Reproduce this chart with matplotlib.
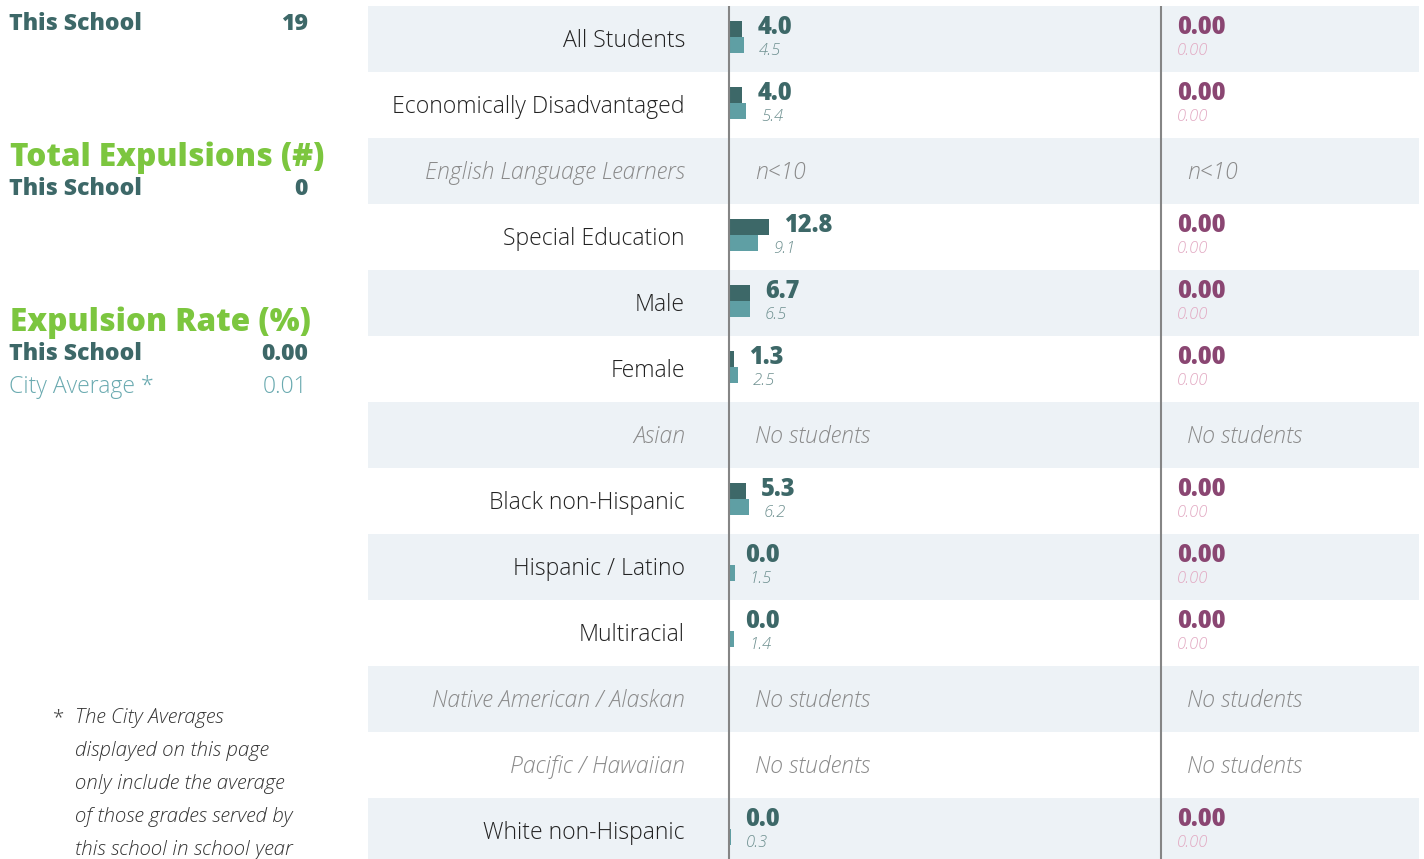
import matplotlib
matplotlib.use('Agg')
import matplotlib.pyplot as plt
from matplotlib.transforms import blended_transform_factory
import numpy as np

# ---------------- data ----------------
categories = ["All Students", "Economically Disadvantaged", "English Language Learners",
              "Special Education", "Male", "Female", "Asian", "Black non-Hispanic",
              "Hispanic / Latino", "Multiracial", "Native American / Alaskan",
              "Pacific / Hawaiian", "White non-Hispanic"]
row_status = ["", "", "n<10", "", "", "", "No students", "", "", "",
              "No students", "No students", ""]
school_susp = [4.0, 4.0, np.nan, 12.8, 6.7, 1.3, np.nan, 5.3, 0.0, 0.0, np.nan, np.nan, 0.0]
city_susp = [4.5, 5.4, np.nan, 9.1, 6.5, 2.5, np.nan, 6.2, 1.5, 1.4, np.nan, np.nan, 0.3]
school_exp = [0.00, 0.00, np.nan, 0.00, 0.00, 0.00, np.nan, 0.00, 0.00, 0.00, np.nan, np.nan, 0.00]
city_exp = [0.00, 0.00, np.nan, 0.00, 0.00, 0.00, np.nan, 0.00, 0.00, 0.00, np.nan, np.nan, 0.00]

total_suspensions = 19
total_expulsions = 0
expulsion_rate_school = 0.00
expulsion_rate_city = 0.01
footnote_lines = ["The City Averages", "displayed on this page", "only include the average",
                  "of those grades served by", "this school in school year"]

# ---------------- style ----------------
W, H = 1424, 859
DARK = '#3d6868'
LIGHT = '#5f9fa4'
CITYTXT = '#6aaab0'
SMALL = '#6e9090'
GREEN = '#7cc63f'
PURPLE = '#8a4672'
PINK = '#e2a9c2'
BAND = '#edf2f6'
LABEL = '#222222'
GRAYLAB = '#8a8a8a'
LINE = '#858585'
FONT = ['Open Sans', 'DejaVu Sans']

LBL = 16.6
VAL = 17
SMV = 12
fig = plt.figure(figsize=(W / 100, H / 100), dpi=100)
fig.patch.set_facecolor('white')

PXU = 3.05      # pixels per percentage unit
X0 = 730        # pixel of zero
ROWH = 66
Y0 = 39         # pixel centre of first row

ax = fig.add_axes([0, 0, 1, 1])
ax.set_xlim(-X0 / PXU, (W - X0) / PXU)
ax.set_ylim((H - Y0) / ROWH, -Y0 / ROWH)
ax.axis('off')

def fx(px):
    return px / W

def fy(py):
    return 1 - py / H

rows = np.arange(len(categories))

# bands
for i in rows:
    if i % 2 == 0:
        ax.axhspan(i - 0.5, i + 0.5, xmin=368 / W, xmax=1419 / W, color=BAND, zorder=0, lw=0)

# vertical separators
ybot = (H - Y0) / ROWH
for pxl in (729, 1161):
    xd = (pxl - X0) / PXU
    ax.plot([xd, xd], [-0.5, ybot], color=LINE, lw=1.5, zorder=3, solid_capstyle='butt')

# bars
ax.barh(rows - 0.152, school_susp, height=0.242, left=0.0, color=DARK, zorder=2, lw=0)
ax.barh(rows + 0.091, city_susp, height=0.242, left=0.0, color=LIGHT, zorder=2, lw=0)

tr_right = blended_transform_factory(fig.transFigure, ax.transData)

LY = 0.025
BY = -0.18
SY = 0.18
GAP = 15 / PXU
for i, cat in enumerate(categories):
    st = row_status[i]
    if st:
        ax.text((685 - X0) / PXU, i + LY, cat, ha='right', va='center',
                fontsize=LBL, family=FONT, fontweight='light', style='italic', color=GRAYLAB)
        ax.text((755 - X0) / PXU, i + LY, st, ha='left', va='center', fontsize=LBL,
                family=FONT, fontweight='light', style='italic', color=GRAYLAB)
        ax.text(fx(1187), i + LY, st, ha='left', va='center', fontsize=LBL,
                family=FONT, fontweight='light', style='italic', color=GRAYLAB,
                transform=tr_right)
        continue
    ax.text((685 - X0) / PXU, i + LY, cat, ha='right', va='center', fontsize=LBL,
            family=FONT, fontweight='light', color=LABEL)
    ax.text(school_susp[i] + GAP, i + BY, f"{school_susp[i]:.1f}", ha='left', va='center',
            fontsize=VAL, family=FONT, fontweight='heavy', color=DARK)
    ax.text(city_susp[i] + GAP, i + SY, f"{city_susp[i]:.1f}", ha='left', va='center',
            fontsize=SMV, family=FONT, fontweight='light', style='italic', color=SMALL)
    ax.text(fx(1177), i + BY, f"{school_exp[i]:.2f}", ha='left', va='center', fontsize=VAL,
            family=FONT, fontweight='heavy', color=PURPLE, transform=tr_right)
    ax.text(fx(1177), i + SY, f"{city_exp[i]:.2f}", ha='left', va='center', fontsize=SMV,
            family=FONT, fontweight='light', style='italic', color=PINK, transform=tr_right)

# ---------------- left panel ----------------
def ftext(x, y, s, **kw):
    kw.setdefault('family', FONT)
    fig.text(fx(x), fy(y), s, **kw)

HD = 22.7
ftext(10, -18, "Total Suspensions (#)", fontsize=HD, fontweight='heavy', color=GREEN, va='center')
ftext(9, 24, "This School", fontsize=LBL, fontweight='heavy', color=DARK, va='center')
ftext(308, 24, f"{total_suspensions}", fontsize=LBL, fontweight='heavy', color=DARK, va='center', ha='right')

ftext(10, 158, "Total Expulsions (#)", fontsize=HD, fontweight='heavy', color=GREEN, va='center')
ftext(9, 189, "This School", fontsize=LBL, fontweight='heavy', color=DARK, va='center')
ftext(308, 189, f"{total_expulsions}", fontsize=LBL, fontweight='heavy', color=DARK, va='center', ha='right')

ftext(10, 323, "Expulsion Rate (%)", fontsize=HD, fontweight='heavy', color=GREEN, va='center')
ftext(9, 354, "This School", fontsize=LBL, fontweight='heavy', color=DARK, va='center')
ftext(308, 354, f"{expulsion_rate_school:.2f}", fontsize=LBL, fontweight='heavy', color=DARK, va='center', ha='right')
ftext(9, 387, "City Average *", fontsize=LBL, fontweight='light', color=CITYTXT, va='center')
ftext(308, 387, f"{expulsion_rate_city:.2f}", fontsize=LBL, fontweight='light', color=CITYTXT, va='center', ha='right')

ftext(53, 718, "*", fontsize=14.8, fontweight='light', color='#444444', va='center')
for k, line in enumerate(footnote_lines):
    ftext(75, 718 + 33 * k, line, fontsize=14.8, fontweight='light', style='italic',
          color='#333333', va='center')

fig.savefig('out.png', dpi=100, facecolor='white')
